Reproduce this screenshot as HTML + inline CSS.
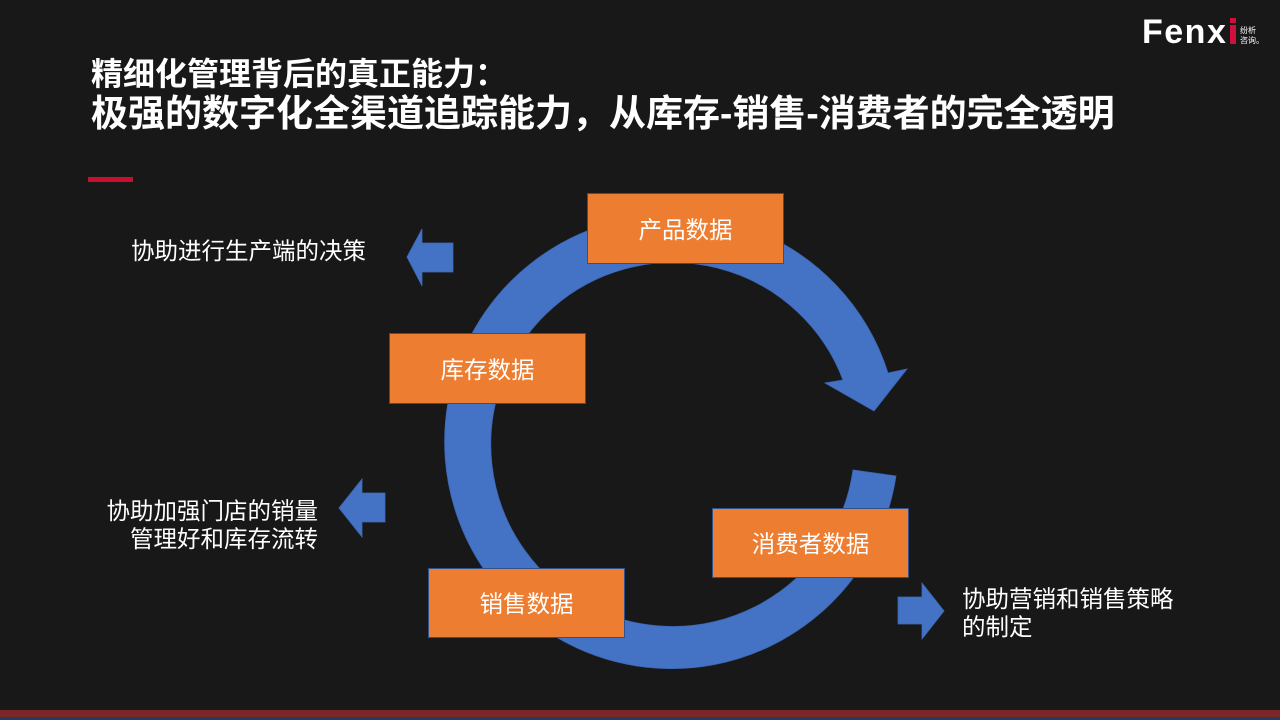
<!DOCTYPE html>
<html>
<head>
<meta charset="utf-8">
<style>
  html, body { margin:0; padding:0; }
  body { width:1280px; height:720px; background:#181818; position:relative; overflow:hidden;
         font-family:"Liberation Sans","Noto Sans CJK SC",sans-serif; color:#fff; }
  .abs { position:absolute; white-space:nowrap; }
  .t1 { left:91px; top:58px; font-size:32px; line-height:32px; font-weight:700; }
  .t2 { left:91px; top:95px; font-size:37px; line-height:37px; font-weight:700; }
  .lbl { font-size:23.5px; line-height:28px; color:#fff; }
  .box { position:absolute; background:#ED7D31; border:1px solid #2F528F; box-sizing:border-box;
         display:flex; align-items:center; justify-content:center; font-size:23.5px; color:#fff; padding-bottom:2px; }
  svg { position:absolute; left:0; top:0; }
</style>
</head>
<body>
<svg width="1280" height="720" viewBox="0 0 1280 720">
  <path d="M 896 476 A 227 227 0 1 1 888 373 L 907 369 L 874 411 L 825 383 L 843 380 A 182 182 0 1 0 853 470 Z"
        fill="#4472C4" stroke="#3D68B5" stroke-width="0.8"/>
  <polygon points="407,257 422,229 422,243 453,243 453,272 422,272 422,286" fill="#4472C4" stroke="#3D68B5" stroke-width="0.8"/>
  <polygon points="339,508 362,479 362,493 385,493 385,522 362,522 362,537" fill="#4472C4" stroke="#3D68B5" stroke-width="0.8"/>
  <polygon points="944,611 922,583 922,597 898,597 898,624 922,624 922,639" fill="#4472C4" stroke="#3D68B5" stroke-width="0.8"/>
  <rect x="88" y="177" width="45" height="5" fill="#C8102E"/>
  <rect x="0" y="710" width="1280" height="7" fill="#7B2727"/>
  <rect x="0" y="717" width="1280" height="3" fill="#1E3E66"/>
  <text x="1142" y="43" font-family="Liberation Sans, sans-serif" font-weight="700" font-size="34" fill="#fff" letter-spacing="1.5">Fenx</text>
  <rect x="1230" y="18" width="6" height="5" fill="#D0103A"/>
  <rect x="1230" y="25" width="6" height="19" fill="#D0103A"/>
  <text x="1240" y="33" font-family="Noto Sans CJK SC, sans-serif" font-size="8" fill="#fff">纷析</text>
  <text x="1240" y="43" font-family="Noto Sans CJK SC, sans-serif" font-size="8" fill="#fff">咨询。</text>
</svg>

<div class="abs t1">精细化管理背后的真正能力：</div>
<div class="abs t2">极强的数字化全渠道追踪能力，从库存-销售-消费者的完全透明</div>

<div class="box" style="left:587px;top:193px;width:197px;height:71px;">产品数据</div>
<div class="box" style="left:389px;top:333px;width:197px;height:71px;">库存数据</div>
<div class="box" style="left:712px;top:508px;width:197px;height:70px;">消费者数据</div>
<div class="box" style="left:428px;top:568px;width:197px;height:70px;">销售数据</div>

<div class="abs lbl" style="left:131px;top:237px;">协助进行生产端的决策</div>
<div class="abs lbl" style="right:962px;top:497px;text-align:right;">协助加强门店的销量<br>管理好和库存流转</div>
<div class="abs lbl" style="left:962px;top:585px;">协助营销和销售策略<br>的制定</div>
</body>
</html>
